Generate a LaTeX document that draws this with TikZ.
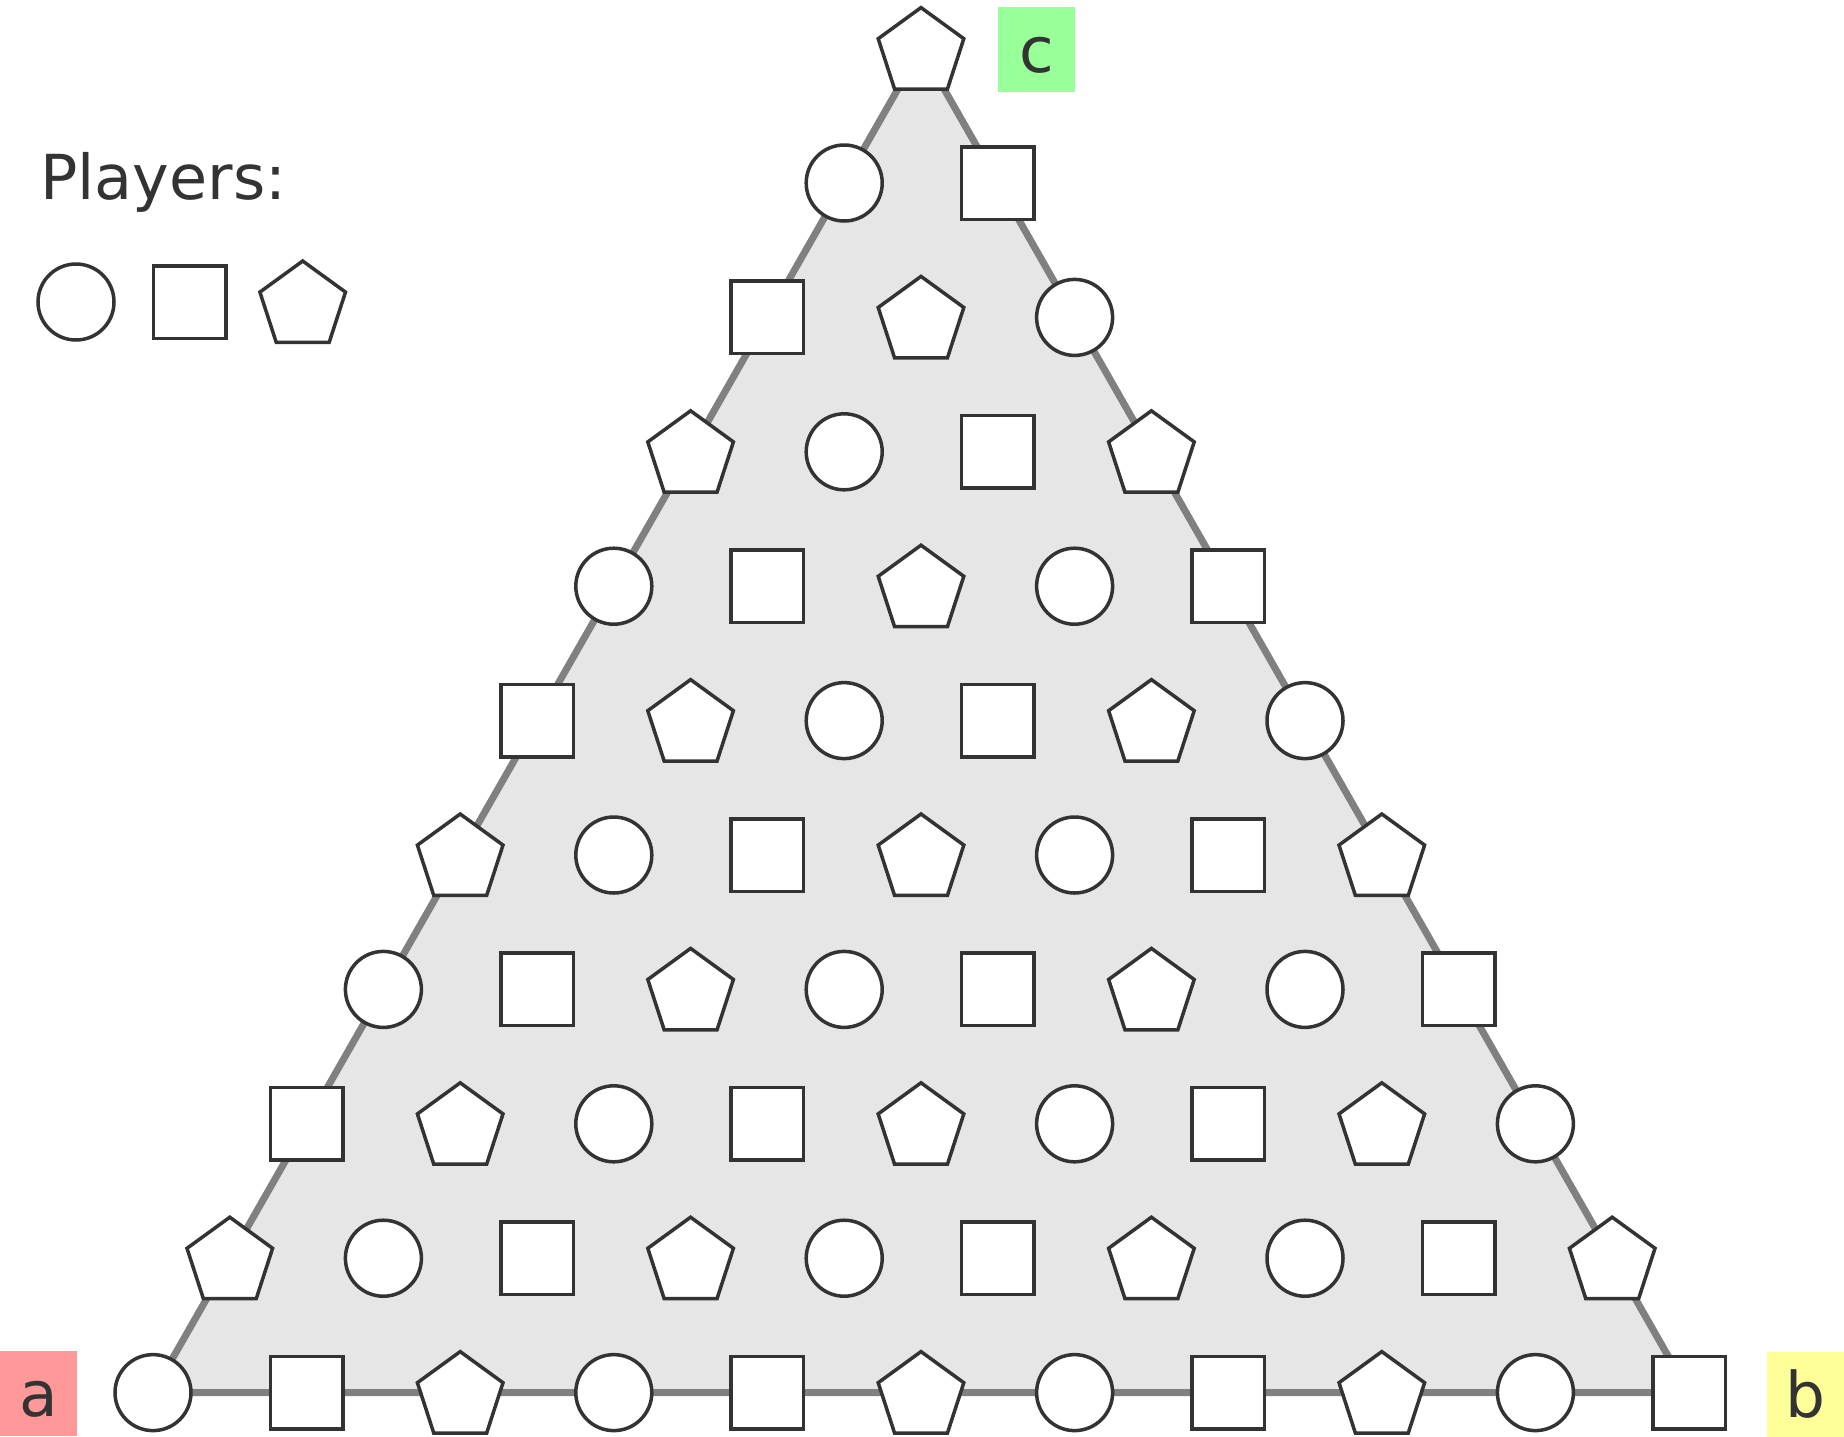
\documentclass[tikz,border=0pt]{standalone}
\usepackage{fontspec}
\setmainfont{DejaVu Sans}
\usetikzlibrary{shapes.geometric}
\definecolor{inkgray}{RGB}{51,51,51}
\definecolor{edgegray}{RGB}{128,128,128}
\definecolor{boardgray}{RGB}{230,230,230}
\definecolor{labelred}{RGB}{255,153,153}
\definecolor{labelyellow}{RGB}{255,255,153}
\definecolor{labelgreen}{RGB}{153,255,153}

\begin{document}
\begin{tikzpicture}[
  x=1pt, y=-1pt,
  piece/.style={draw=inkgray, line width=3.5pt, fill=white, inner sep=0pt, outer sep=0pt},
  player0/.style={piece, circle, minimum size=76pt},
  player1/.style={piece, rectangle, minimum size=72.5pt},
  player2/.style={piece, regular polygon, regular polygon sides=5, minimum size=90pt, yshift=-4pt},
  corner/.style={rectangle, minimum width=77pt, minimum height=85pt, text height=46pt, text depth=0pt, inner sep=0pt, text=inkgray, font=\fontsize{63}{70}\selectfont}
]
\useasboundingbox (0,0) rectangle (1844,1436);

% board
\coordinate (apex) at (921,48.6);
\coordinate (west) at (153,1392.6);
\coordinate (east) at (1689,1392.6);
\draw[edgegray, line width=7pt, fill=boardgray] (apex) -- (west) -- (east) -- cycle;

% pieces, row by row
\foreach \r in {0,...,10}
  \foreach \k in {0,...,\r} {
    \pgfmathtruncatemacro\kind{mod(2+\r+\k,3)}
    \node[player\kind] (p-\r-\k) at ({921+(\k-\r/2)*153.6}, {48.6+\r*134.4}) {};
  }

% corner labels
\node[corner, fill=labelred] (a) at (38.5,1393.5) {a};
\node[corner, fill=labelyellow] (b) at (1805,1394.5) {b};
\node[corner, fill=labelgreen] (c) at (1036.5,49) {c};

% legend
\node[anchor=base west, inner sep=0pt, text=inkgray, font=\fontsize{62}{70}\selectfont] (players) at (40,199) {Players:};
\node[player0] (leg-circle) at (76,302) {};
\node[player1] (leg-square) at (189.5,302) {};
\node[player2] (leg-pent) at (302.7,302) {};
\end{tikzpicture}
\end{document}
